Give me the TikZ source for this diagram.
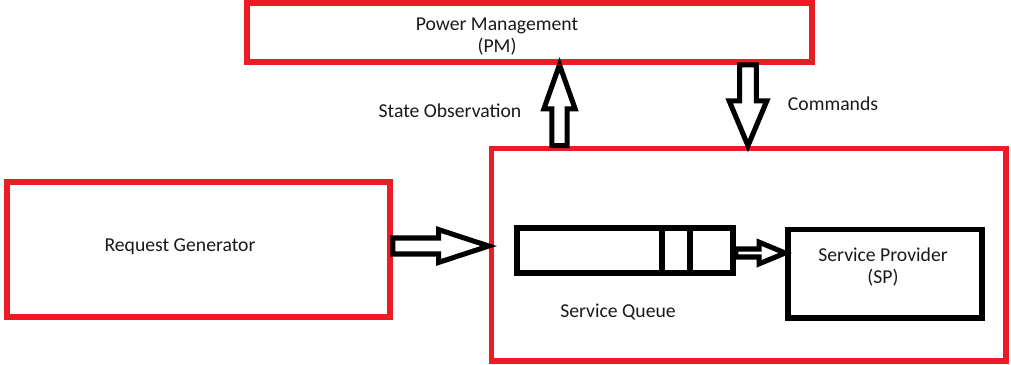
\documentclass[tikz,border=0pt]{standalone}
\usepackage{fontspec}
\setmainfont{Carlito}
\usetikzlibrary{calc,positioning}
\definecolor{paintred}{RGB}{237,28,36}

\begin{document}
\begin{tikzpicture}[
    x=0.025cm, y=-0.025cm,
    redbox/.style={draw=paintred, line width=4pt, inner sep=0pt},
    blackbox/.style={draw=black, line width=4pt, inner sep=0pt},
    lbl/.style={font=\fontsize{14}{15.5}\selectfont, align=center, text=black!90, inner sep=1pt},
    hollow/.style n args={3}{draw=black, fill=white, line width=3.6pt, line join=miter,
      to path={
        ($(\tikztotarget)!#3!(\tikztostart)$) coordinate (bh)
        ($(\tikztostart)!#1!90:(\tikztotarget)$) -- ($(bh)!#1!90:(\tikztotarget)$)
        -- ($(bh)!#2!90:(\tikztotarget)$) -- (\tikztotarget)
        -- ($(bh)!#2!-90:(\tikztotarget)$) -- ($(bh)!#1!-90:(\tikztotarget)$)
        -- ($(\tikztostart)!#1!-90:(\tikztotarget)$) -- cycle}}
  ]
  \useasboundingbox (0,0) rectangle (1011,364);

  % boxes
  \node[redbox, minimum width=14.125cm, minimum height=1.475cm] (pm) at (529.5,32.5) {};
  \node[redbox, minimum width=12.86cm, minimum height=5.31cm] (svc) at (748.75,254.75) {};
  \node[redbox, minimum width=9.575cm, minimum height=3.375cm] (rg) at (198.5,249.5) {};
  \node[blackbox, minimum width=5.4cm, minimum height=1.125cm] (queue) at (625,250.5) {};
  \node[blackbox, minimum width=4.85cm, minimum height=2.21cm] (sp) at (885,273.75) {};
  \foreach \x in {662,690}
    \draw[line width=4pt] (queue.north -| \x,0) -- (queue.south -| \x,0);

  % texts
  \node[lbl] (pmtext) at (497,36.5) {Power Management\\(PM)};
  \node[lbl] (rgtext) at (180,247) {Request Generator};
  \node[lbl] (obs) at (450,111) {State Observation};
  \node[lbl] (cmd) at (833,104) {Commands};
  \node[lbl] (sqtext) at (618,312) {Service Queue};
  \node[lbl] (sptext) at (883,267) {Service Provider\\(SP)};

  % block arrows
  \draw[hollow={0.2cm}{0.41cm}{1.25cm}] (rg.east |- 0,246) to (svc.west |- 0,246);
  \draw[hollow={0.19cm}{0.39cm}{1.1cm}] (svc.north -| 559.5,0) to (pm.south -| 559.5,0);
  \draw[hollow={0.21cm}{0.47cm}{1.12cm}] (pm.south -| 748,0) to (svc.north -| 748,0);
  \draw[hollow={0.1cm}{0.27cm}{0.65cm}] (queue.east |- 0,253) to (sp.west |- 0,253);
\end{tikzpicture}
\end{document}
